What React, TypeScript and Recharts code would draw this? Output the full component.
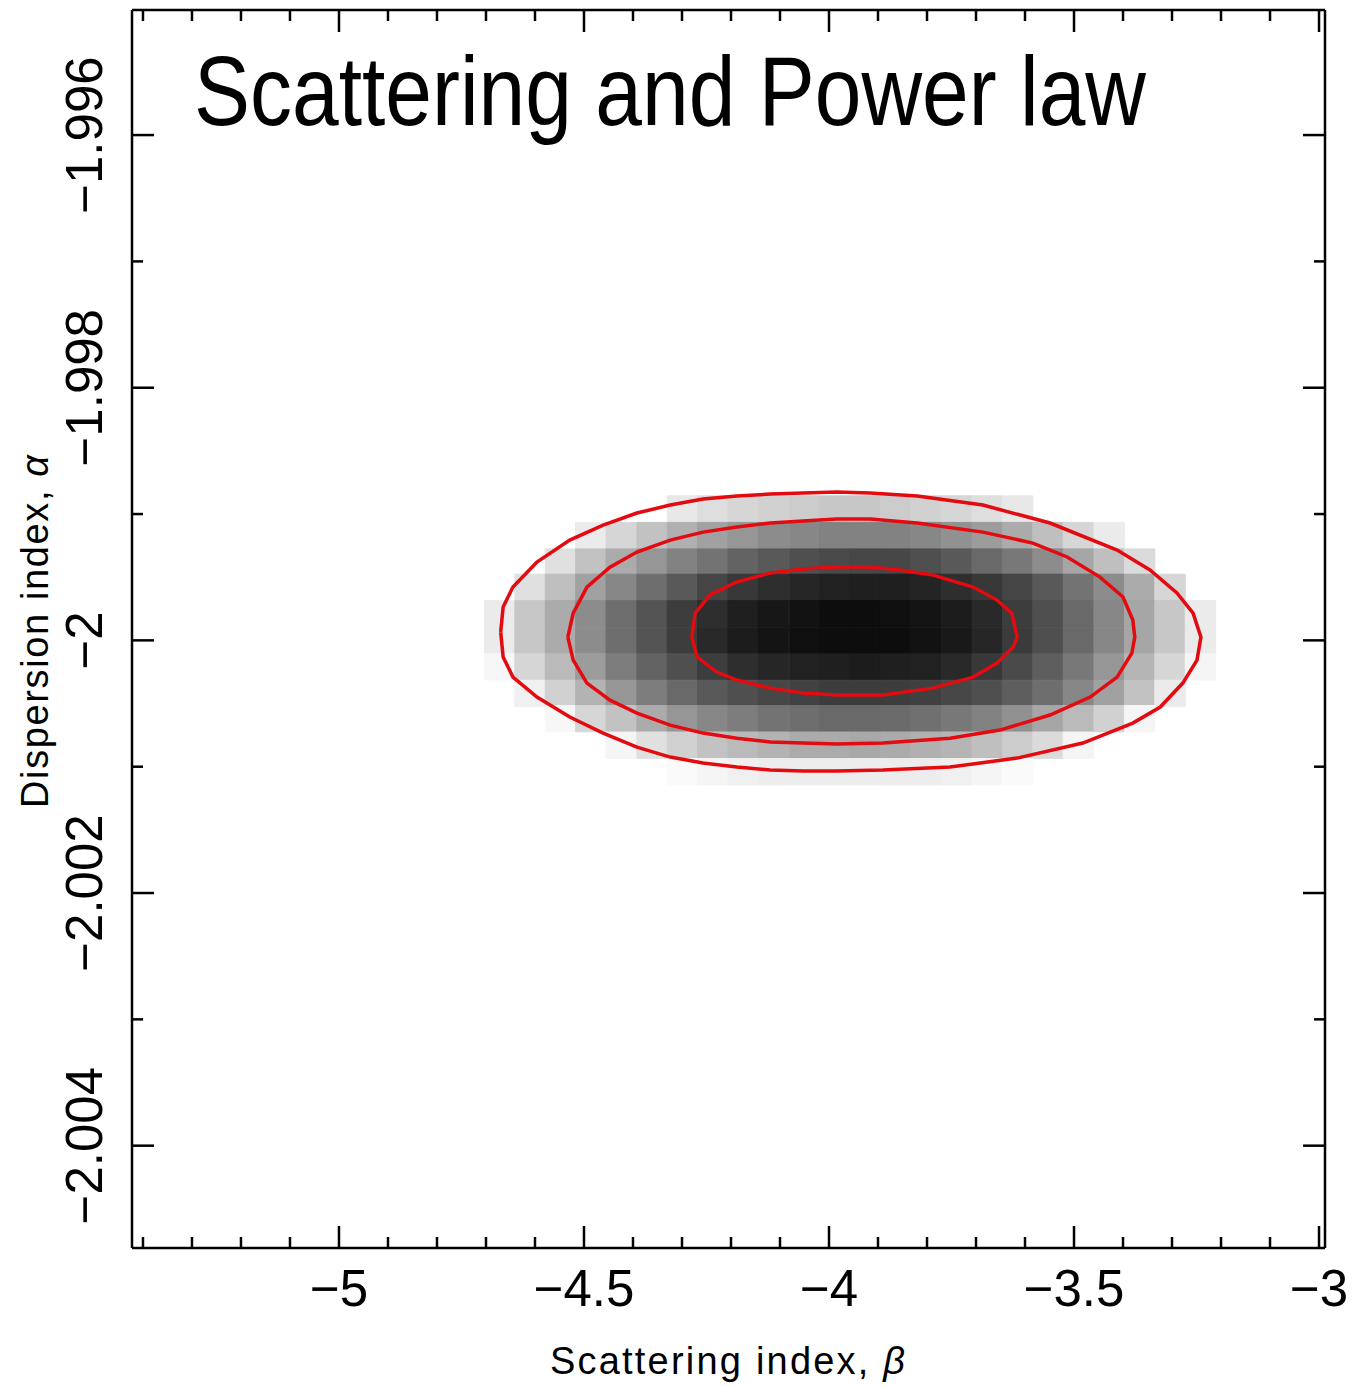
import { ComposedChart, ReferenceArea, ReferenceLine, Scatter, XAxis, YAxis } from "recharts"

// grid cell centres: scattering index beta (columns) and dispersion index alpha (rows, top to bottom)
const betaCenters = [
  -4.672, -4.61, -4.548, -4.486, -4.424, -4.361, -4.299, -4.237, -4.175, -4.113, -4.05, -3.988,
  -3.926, -3.864, -3.802, -3.739, -3.677, -3.615, -3.553, -3.491, -3.428, -3.366, -3.304, -3.242,
]
const alphaCenters = [
  -1.99896, -1.99917, -1.99938, -1.99958, -1.99979, -2.0, -2.00021, -2.00042, -2.00062, -2.00083, -2.00104,
]

// relative likelihood (0..1) of each cell, one array per row
const _ = null
const row01 = [_, _, _, _, _, _, 0.09, 0.13, 0.16, 0.18, 0.2, 0.22, 0.22, 0.2, 0.18, 0.16, 0.13, 0.09, _, _, _, _, _, _]
const row02 = [_, _, _, 0.08, 0.16, 0.24, 0.31, 0.37, 0.41, 0.45, 0.47, 0.49, 0.49, 0.49, 0.47, 0.43, 0.39, 0.33, 0.25, 0.16, 0.08, _, _, _]
const row03 = [_, _, 0.12, 0.24, 0.33, 0.41, 0.49, 0.55, 0.61, 0.65, 0.69, 0.71, 0.72, 0.72, 0.69, 0.65, 0.59, 0.53, 0.45, 0.35, 0.25, 0.14, _, _]
const row04 = [_, 0.12, 0.25, 0.37, 0.47, 0.57, 0.65, 0.73, 0.78, 0.82, 0.85, 0.87, 0.88, 0.88, 0.86, 0.82, 0.78, 0.73, 0.65, 0.55, 0.45, 0.33, 0.16, _]
const row05 = [0.08, 0.22, 0.33, 0.45, 0.57, 0.67, 0.76, 0.82, 0.88, 0.91, 0.93, 0.95, 0.95, 0.94, 0.92, 0.89, 0.84, 0.76, 0.69, 0.59, 0.47, 0.35, 0.22, 0.08]
const row06 = [0.08, 0.22, 0.33, 0.45, 0.57, 0.67, 0.76, 0.84, 0.89, 0.92, 0.94, 0.95, 0.95, 0.95, 0.93, 0.9, 0.85, 0.77, 0.69, 0.59, 0.47, 0.35, 0.22, 0.08]
const row07 = [0.03, 0.16, 0.27, 0.39, 0.51, 0.61, 0.69, 0.76, 0.82, 0.85, 0.87, 0.88, 0.89, 0.88, 0.87, 0.84, 0.78, 0.71, 0.63, 0.53, 0.41, 0.29, 0.16, 0.04]
const row08 = [_, 0.06, 0.18, 0.3, 0.41, 0.51, 0.59, 0.65, 0.69, 0.72, 0.74, 0.76, 0.76, 0.76, 0.75, 0.72, 0.69, 0.63, 0.57, 0.47, 0.37, 0.24, 0.08, _]
const row09 = [_, _, 0.03, 0.16, 0.24, 0.33, 0.41, 0.47, 0.51, 0.55, 0.57, 0.59, 0.59, 0.58, 0.56, 0.53, 0.49, 0.43, 0.35, 0.27, 0.18, 0.04, _, _]
const row10 = [_, _, _, _, 0.04, 0.12, 0.18, 0.24, 0.27, 0.3, 0.33, 0.33, 0.34, 0.33, 0.31, 0.29, 0.25, 0.2, 0.14, 0.04, _, _, _, _]
const row11 = [_, _, _, _, _, _, 0.02, 0.04, 0.06, 0.07, 0.07, 0.07, 0.07, 0.07, 0.07, 0.06, 0.04, 0.02, _, _, _, _, _, _]
const densityRows = [row01, row02, row03, row04, row05, row06, row07, row08, row09, row10, row11]

// confidence contours as [beta, alpha]
const contourInner = [
  [-4.28, -1.999974], [-4.273, -1.999784], [-4.243, -1.999641], [-4.188, -1.999538], [-4.12, -1.999467],
  [-4.053, -1.999435], [-3.984, -1.99942], [-3.916, -1.99942], [-3.855, -1.999443], [-3.788, -1.999483],
  [-3.706, -1.999578], [-3.657, -1.999681], [-3.627, -1.999784], [-3.616, -1.999974], [-3.624, -2.000053],
  [-3.657, -2.00018], [-3.706, -2.000291], [-3.788, -2.000378], [-3.89, -2.000433], [-3.984, -2.000433],
  [-4.053, -2.000417], [-4.12, -2.000378], [-4.188, -2.000314], [-4.229, -2.000251], [-4.269, -2.000132],
  [-4.28, -1.999974],
]
const contourMiddle = [
  [-4.533, -1.999974], [-4.522, -1.999784], [-4.494, -1.999578], [-4.447, -1.99942], [-4.392, -1.999301],
  [-4.324, -1.999206], [-4.257, -1.999143], [-4.188, -1.999103], [-4.12, -1.999071], [-4.053, -1.999055],
  [-3.984, -1.99904], [-3.916, -1.99904], [-3.82, -1.999071], [-3.686, -1.999143], [-3.584, -1.99923],
  [-3.514, -1.99934], [-3.447, -1.999499], [-3.4, -1.999657], [-3.38, -1.999839], [-3.376, -1.999974],
  [-3.382, -2.000101], [-3.412, -2.000291], [-3.467, -2.000449], [-3.549, -2.000591], [-3.651, -2.00071],
  [-3.753, -2.000774], [-3.89, -2.000813], [-3.984, -2.000821], [-4.053, -2.000813], [-4.12, -2.000805],
  [-4.188, -2.000774], [-4.257, -2.000734], [-4.324, -2.000671], [-4.392, -2.000576], [-4.447, -2.000473],
  [-4.494, -2.000338], [-4.522, -2.000156], [-4.533, -1.999974],
]
const contourOuter = [
  [-4.67, -1.999934], [-4.665, -1.999736], [-4.645, -1.999578], [-4.596, -1.99938], [-4.529, -1.999206],
  [-4.461, -1.999087], [-4.392, -1.998992], [-4.324, -1.998929], [-4.257, -1.998881], [-4.188, -1.998857],
  [-4.12, -1.998842], [-4.053, -1.998834], [-3.984, -1.998826], [-3.916, -1.998834], [-3.82, -1.998857],
  [-3.686, -1.998929], [-3.549, -1.999071], [-3.412, -1.999285], [-3.345, -1.999443], [-3.29, -1.999625],
  [-3.257, -1.999784], [-3.241, -1.999974], [-3.249, -2.000156], [-3.278, -2.000338], [-3.324, -2.000528],
  [-3.38, -2.000655], [-3.482, -2.000813], [-3.616, -2.000932], [-3.753, -2.001003], [-3.89, -2.001027],
  [-3.984, -2.001035], [-4.053, -2.001035], [-4.12, -2.001027], [-4.188, -2.001003], [-4.257, -2.000971],
  [-4.324, -2.000924], [-4.392, -2.000845], [-4.461, -2.000734], [-4.529, -2.000607], [-4.596, -2.000449],
  [-4.645, -2.000291], [-4.665, -2.000132], [-4.67, -1.999934],
]

const xTicks = [
  -5.4, -5.3, -5.2, -5.1, -5, -4.9, -4.8, -4.7, -4.6, -4.5, -4.4, -4.3, -4.2, -4.1, -4,
  -3.9, -3.8, -3.7, -3.6, -3.5, -3.4, -3.3, -3.2, -3.1, -3,
]
const xLabelTicks = [-5, -4.5, -4, -3.5, -3]
const yTicks = [-2.004, -2.003, -2.002, -2.001, -2, -1.999, -1.998, -1.997, -1.996]
const yLabelTicks = [-2.004, -2.002, -2, -1.998, -1.996]

const X_DOMAIN = [-5.4224, -2.9878]
const Y_DOMAIN = [-2.00481, -1.99501]

const FONT = '"Liberation Sans", Arial, Helvetica, sans-serif'
const RED = "#e30a10"
const MAJOR = 22
const MINOR = 11
const PLOT_TOP = 10
const PLOT_RIGHT = 1325

const isLabelled = (v: number, list: number[]) => list.some((m) => Math.abs(m - v) < 1e-9)
const fmt = (v: number) => String(v).replace("-", "\u2212")
const grey = (d: number) => {
  const g = Math.round(255 * (1 - d))
  return `rgb(${g},${g},${g})`
}

const halfW = (betaCenters[betaCenters.length - 1] - betaCenters[0]) / (betaCenters.length - 1) / 2
const halfH = (alphaCenters[0] - alphaCenters[alphaCenters.length - 1]) / (alphaCenters.length - 1) / 2

const cells: { key: string; beta: number; alpha: number; d: number }[] = []
densityRows.forEach((row, r) =>
  row.forEach((d, c) => {
    if (d != null) cells.push({ key: `${r}-${c}`, beta: betaCenters[c], alpha: alphaCenters[r], d })
  })
)

const toPoints = (pts: number[][]) => pts.map(([x, y]) => ({ x, y }))

// bottom axis tick: inward mark at the bottom and mirrored one at the top, plus label
function XTick(props: any) {
  const { x, y, payload } = props
  const big = isLabelled(payload.value, xLabelTicks)
  const len = big ? MAJOR : MINOR
  return (
    <g>
      <line x1={x} x2={x} y1={y} y2={y - len} stroke="#000" strokeWidth={2.5} />
      <line x1={x} x2={x} y1={PLOT_TOP} y2={PLOT_TOP + len} stroke="#000" strokeWidth={2.5} />
      {big && (
        <text x={x} y={y + 58} textAnchor="middle" fontSize={51} fontFamily={FONT} fill="#000">
          {fmt(payload.value)}
        </text>
      )}
    </g>
  )
}

function YTick(props: any) {
  const { x, y, payload } = props
  const big = isLabelled(payload.value, yLabelTicks)
  const len = big ? MAJOR : MINOR
  return (
    <g>
      <line x1={x} x2={x + len} y1={y} y2={y} stroke="#000" strokeWidth={2.5} />
      <line x1={PLOT_RIGHT} x2={PLOT_RIGHT - len} y1={y} y2={y} stroke="#000" strokeWidth={2.5} />
      {big && (
        <text
          x={102}
          y={y}
          transform={`rotate(-90 102 ${y})`}
          textAnchor="middle"
          fontSize={51}
          fontFamily={FONT}
          fill="#000"
        >
          {fmt(payload.value)}
        </text>
      )}
    </g>
  )
}

const axisLine = { stroke: "#000", strokeWidth: 2.5 }

export default function App() {
  return (
    <div style={{ position: "absolute", left: 0, top: 0, background: "#fff" }}>
      <ComposedChart width={1355} height={1386} margin={{ top: PLOT_TOP, right: 1355 - PLOT_RIGHT, bottom: 0, left: 0 }}>
        <XAxis
          type="number"
          dataKey="x"
          domain={X_DOMAIN}
          allowDataOverflow
          ticks={xTicks}
          interval={0}
          height={138}
          tickSize={0}
          tickMargin={0}
          tickLine={false}
          axisLine={axisLine}
          tick={(p: any) => <XTick {...p} />}
        />
        <YAxis
          type="number"
          dataKey="y"
          domain={Y_DOMAIN}
          allowDataOverflow
          ticks={yTicks}
          interval={0}
          width={132}
          tickSize={0}
          tickMargin={0}
          tickLine={false}
          axisLine={axisLine}
          tick={(p: any) => <YTick {...p} />}
        />

        {cells.map((c) => (
          <ReferenceArea
            key={c.key}
            x1={c.beta - halfW}
            x2={c.beta + halfW}
            y1={c.alpha - halfH}
            y2={c.alpha + halfH}
            fill={grey(c.d)}
            fillOpacity={1}
            stroke={grey(c.d)}
            strokeWidth={1}
            strokeOpacity={1}
          />
        ))}

        {/* top and right sides of the frame */}
        <ReferenceLine y={Y_DOMAIN[1]} stroke="#000" strokeWidth={2.5} />
        <ReferenceLine x={X_DOMAIN[1]} stroke="#000" strokeWidth={2.5} />

        {[contourOuter, contourMiddle, contourInner].map((pts, i) => (
          <Scatter
            key={i}
            data={toPoints(pts)}
            line={{ stroke: RED, strokeWidth: 3.5 }}
            lineType="joint"
            shape={() => <g />}
            isAnimationActive={false}
            legendType="none"
          />
        ))}

        <text
          x={194}
          y={125}
          fontSize={99}
          fontFamily='"Liberation Sans Narrow", "Liberation Sans", Arial, sans-serif'
          textLength={952}
          lengthAdjust="spacingAndGlyphs"
          fill="#000"
        >
          Scattering and Power law
        </text>
        <text
          x={550}
          y={1374}
          fontSize={38}
          fontFamily={FONT}
          textLength={355}
          lengthAdjust="spacing"
          fill="#000"
        >
          Scattering index, <tspan fontStyle="italic">β</tspan>
        </text>
        <text
          x={48}
          y={808}
          transform="rotate(-90 48 808)"
          fontSize={38}
          fontFamily={FONT}
          textLength={353}
          lengthAdjust="spacing"
          fill="#000"
        >
          Dispersion index, <tspan fontStyle="italic">α</tspan>
        </text>
      </ComposedChart>
    </div>
  )
}
